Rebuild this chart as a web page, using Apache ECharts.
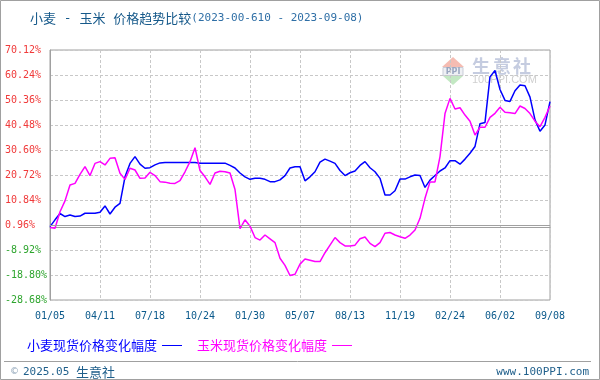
<!DOCTYPE html>
<html><head><meta charset="utf-8">
<script src="https://cdn.jsdelivr.net/npm/echarts@6/dist/echarts.min.js"></script>
<style>html,body{margin:0;padding:0;background:#fff}#c{width:600px;height:380px}</style>
</head><body><div id="c"></div>
<script>
// x-axis tick labels (one every 10 samples)
const tickLabels = ['01/05','04/11','07/18','10/24','01/30','05/07','08/13','11/19','02/24','06/02','09/08'];
// 小麦现货价格变化幅度 (%)
const wheat = [0.3,3.0,5.5,4.3,4.9,4.3,4.5,5.6,5.6,5.6,
  6.0,8.5,5.3,8.0,9.5,20.0,25.3,28.0,25.0,23.4,
  23.6,24.7,25.5,25.7,25.7,25.7,25.7,25.7,25.7,25.7,
  25.4,25.4,25.4,25.4,25.4,25.4,24.5,23.5,21.5,20.0,
  19.0,19.4,19.4,19.0,18.1,18.1,18.8,20.5,23.5,24.0,
  24.0,18.4,20.0,22.0,25.8,27.0,26.2,25.3,22.5,20.5,
  21.6,22.3,24.5,26.0,23.6,22.0,19.4,12.8,12.8,14.5,
  19.1,19.1,20.0,20.7,20.5,15.8,18.7,20.5,22.3,23.5,
  26.4,26.4,25.0,27.0,29.3,32.0,41.0,41.5,59.5,62.0,
  54.5,50.2,49.8,54.0,56.3,56.0,51.5,42.5,38.0,40.5,
  49.7];
// 玉米现货价格变化幅度 (%)
const corn = [0.0,-0.3,6.2,10.5,16.8,17.4,21.0,24.0,20.5,25.3,
  26.0,24.7,27.3,27.5,21.4,19.0,23.4,22.7,19.4,19.5,
  21.8,20.5,18.1,17.9,17.5,17.4,18.5,22.0,26.0,31.5,
  22.5,20.0,17.0,21.5,22.2,22.0,21.5,15.0,-0.5,3.0,
  0.5,-4.0,-5.0,-3.0,-4.5,-6.0,-12.2,-15.0,-19.0,-18.5,
  -14.5,-12.5,-13.0,-13.5,-13.5,-10.0,-7.0,-4.0,-6.0,-7.3,
  -7.3,-7.0,-4.5,-3.8,-6.3,-7.6,-6.0,-2.3,-2.0,-3.0,
  -3.7,-4.3,-3.0,-1.0,3.6,11.5,18.0,18.0,28.0,45.0,
  51.0,46.8,47.3,44.4,42.0,36.5,39.6,39.6,43.5,45.1,
  47.5,45.5,45.3,45.0,48.0,47.0,45.0,42.0,39.8,43.5,
  48.0];
const yMin = -28.68, yMax = 70.12, yStep = 9.88, baseLine = 0.96;
const seriesNames = ['小麦现货价格变化幅度','玉米现货价格变化幅度'];

const categories = wheat.map((_, i) => i % 10 === 0 ? tickLabels[i / 10] : 'd' + i);

const chart = echarts.init(document.getElementById('c'), null, {renderer: 'canvas'});
const mono = 'DejaVu Sans Mono';
const cjk = 'Noto Sans CJK SC';
chart.setOption({
  animation: false,
  backgroundColor: '#fff',
  title: {
    left: 25, top: 7,
    text: '{a|小麦}{b| - }{a|玉米}{b| }{a|价格趋势比较}{c|(2023-00-610 - 2023-09-08)}',
    textStyle: {
      fontWeight: 'normal',
      rich: {
        a: {fontFamily: cjk, fontSize: 13, color: '#16598a', fontWeight: 'normal'},
        b: {fontFamily: mono, fontSize: 13, color: '#16598a', fontWeight: 'normal'},
        c: {fontFamily: mono, fontSize: 11, color: '#2f6fa6', fontWeight: 'normal'}
      }
    }
  },
  grid: {left: 50, right: 50, top: 50, bottom: 80, show: true, borderColor: '#a0a0a0', borderWidth: 1},
  xAxis: {
    type: 'category', data: categories, boundaryGap: false,
    axisLine: {lineStyle: {color: '#a0a0a0'}},
    axisTick: {show: false},
    axisLabel: {interval: (i) => i % 10 === 0, color: '#0b5a8c', fontFamily: mono, fontSize: 10, margin: 11,
      showMinLabel: true, showMaxLabel: true},
    splitLine: {show: true, interval: (i) => i % 10 === 0, lineStyle: {color: '#c8c8c8', type: [3, 2]}}
  },
  yAxis: {
    type: 'value', min: yMin, max: yMax, interval: yStep,
    axisLine: {show: true, lineStyle: {color: '#a0a0a0'}},
    axisTick: {show: false},
    axisLabel: {formatter: (v) => v.toFixed(2) + '%', color: (v) => (Number(v) < 0 ? '#2ea52e' : '#f03a3a'),
      align: 'left', margin: 45, fontFamily: mono, fontSize: 10},
    splitLine: {lineStyle: {color: '#c8c8c8', type: [3, 2]}}
  },
  legend: {
    left: 22, top: 334, align: 'right', itemWidth: 20, itemHeight: 1, itemGap: 15, icon: 'rect', selectedMode: false,
    textStyle: {fontFamily: cjk, fontSize: 13},
    data: [{name: seriesNames[0], textStyle: {color: '#0000ff'}}, {name: seriesNames[1], textStyle: {color: '#ff00ff'}}]
  },
  series: [
    {name: seriesNames[0], type: 'line', data: wheat, symbol: 'none', color: '#0000ff',
      lineStyle: {width: 1.5, color: '#0000ff'},
      markLine: {silent: true, symbol: 'none', label: {show: false}, lineStyle: {color: '#a0a0a0', type: 'solid', width: 1},
        data: [{yAxis: baseLine}]}},
    {name: seriesNames[1], type: 'line', data: corn, symbol: 'none', color: '#ff00ff',
      lineStyle: {width: 1.5, color: '#ff00ff'}}
  ],
  graphic: [
    {type: 'rect', shape: {x: 0.5, y: 0.5, width: 599, height: 379}, style: {fill: 'none', stroke: '#a0a0a0', lineWidth: 1}, silent: true},
    {type: 'line', shape: {x1: 4, y1: 361.5, x2: 591, y2: 361.5}, style: {stroke: '#a0a0a0', lineWidth: 1}, silent: true},
    {type: 'text', x: 10, y: 372, style: {text: '©', fontSize: 9, fill: '#8aa0b5', verticalAlign: 'middle', fontFamily: 'DejaVu Sans'}},
    {type: 'text', x: 23, y: 372, style: {text: '2025.05', fontSize: 11, fill: '#1f5f8b', verticalAlign: 'middle', fontFamily: mono}},
    {type: 'text', x: 76, y: 372, style: {text: '生意社', fontSize: 13, fill: '#1f5f8b', verticalAlign: 'middle', fontFamily: cjk}},
    {type: 'text', x: 589, y: 372, style: {text: 'www.100PPI.com', fontSize: 11, fill: '#1f5f8b', align: 'right', verticalAlign: 'middle', fontFamily: mono}},
    // watermark
    {type: 'polygon', shape: {points: [[453, 57], [442, 67], [464, 67]]}, style: {fill: '#f5bcb2'}, silent: true},
    {type: 'rect', shape: {x: 443, y: 67.5, width: 20, height: 8}, style: {fill: '#eef0f4', stroke: '#c9cdd8', lineWidth: 1}, silent: true},
    {type: 'text', x: 453, y: 72, style: {text: 'PPI', fontSize: 8, fontWeight: 'bold', fill: '#9aa6c0', align: 'center', verticalAlign: 'middle', fontFamily: 'DejaVu Sans'}},
    {type: 'polygon', shape: {points: [[443, 76], [463, 76], [453, 85]]}, style: {fill: '#c3e8c3'}, silent: true},
    {type: 'text', x: 481, y: 66, style: {text: '生', fontSize: 18, fill: '#c5cce0', align: 'center', verticalAlign: 'middle', fontFamily: cjk, fontWeight: 'bold'}},
    {type: 'text', x: 502, y: 66, style: {text: '意', fontSize: 18, fill: '#c5cce0', align: 'center', verticalAlign: 'middle', fontFamily: cjk, fontWeight: 'bold'}},
    {type: 'text', x: 522, y: 66, style: {text: '社', fontSize: 18, fill: '#c5cce0', align: 'center', verticalAlign: 'middle', fontFamily: cjk, fontWeight: 'bold'}},
    {type: 'text', x: 472, y: 80, style: {text: '100PPI.COM', fontSize: 11, fill: '#d0d0d0', verticalAlign: 'middle', fontFamily: 'Liberation Sans'}}
  ]
});
</script>
</body></html>
